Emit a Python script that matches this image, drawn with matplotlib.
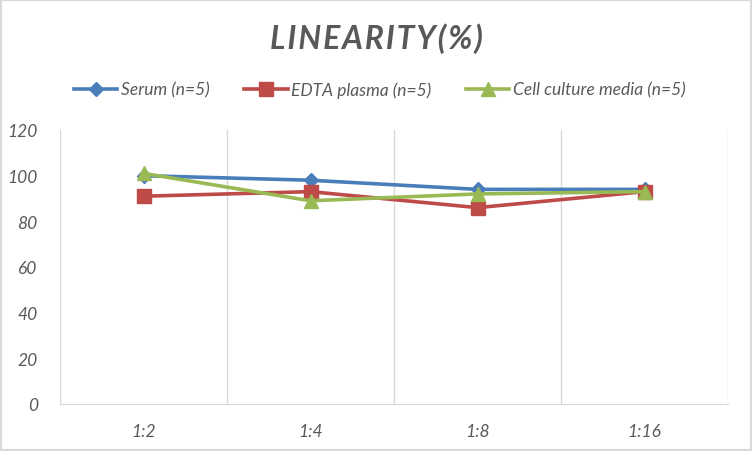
import matplotlib
matplotlib.use('Agg')
import matplotlib.pyplot as plt
from matplotlib.patches import Rectangle

# chart data
dilutions = ['1:2', '1:4', '1:8', '1:16']
serum = [100, 98, 94, 94]
edta_plasma = [91, 93, 86, 93]
cell_media = [101, 89, 92, 93]
series_names = ['Serum (n=5)', 'EDTA plasma (n=5)', 'Cell culture media (n=5)']
y_ticks = [0, 20, 40, 60, 80, 100, 120]

plt.rcParams['font.family'] = ['Lato', 'DejaVu Sans']

txt = '#595959'
grid = '#d9d9d9'

fig = plt.figure(figsize=(7.52, 4.52), dpi=100)
ax = fig.add_axes([60 / 752, 47 / 452, 668 / 752, 274 / 452])

x = list(range(len(dilutions)))
ax.plot(x, serum, color='#4a7ebb', lw=2.6, marker='D', ms=7.5, label=series_names[0])
ax.plot(x, edta_plasma, color='#be4b48', lw=2.6, marker='s', ms=10, label=series_names[1])
ax.plot(x, cell_media, color='#98b954', lw=2.6, marker='^', ms=10, label=series_names[2])

ax.set_xlim(-0.5, len(dilutions) - 0.5)
ax.set_ylim(0, 120)
ax.set_xticks(x)
ax.set_xticklabels(dilutions, style='italic', fontsize=12.5, color=txt)
ax.set_yticks(y_ticks)
ax.set_yticklabels([str(v) for v in y_ticks], style='italic', fontsize=12.5, color=txt)
ax.tick_params(length=0)
ax.tick_params(axis='x', pad=14)
ax.tick_params(axis='y', pad=16)

# vertical separators between categories
for b in [i + 0.5 for i in range(-1, len(dilutions))]:
    ax.axvline(b, color=grid, lw=1, zorder=0)
for s in ['top', 'right', 'left']:
    ax.spines[s].set_visible(False)
ax.spines['bottom'].set_color(grid)

fig.text(0.5, 0.914, 'L I N E A R I T Y ( % )'.replace(' ', '\u200a'), ha='center', va='center',
         fontsize=23, fontweight='bold', style='italic', color=txt)

fig.legend(loc='center', bbox_to_anchor=(0.505, 0.80), ncol=3, frameon=False,
           prop={'style': 'italic', 'size': 12.5}, labelcolor=txt,
           handlelength=2.5, columnspacing=2.0, handletextpad=0.2)

fig.patches.append(Rectangle((0, 0), 1, 1, transform=fig.transFigure,
                             fill=False, edgecolor=grid, lw=3))

fig.savefig('out.png', dpi=100)
